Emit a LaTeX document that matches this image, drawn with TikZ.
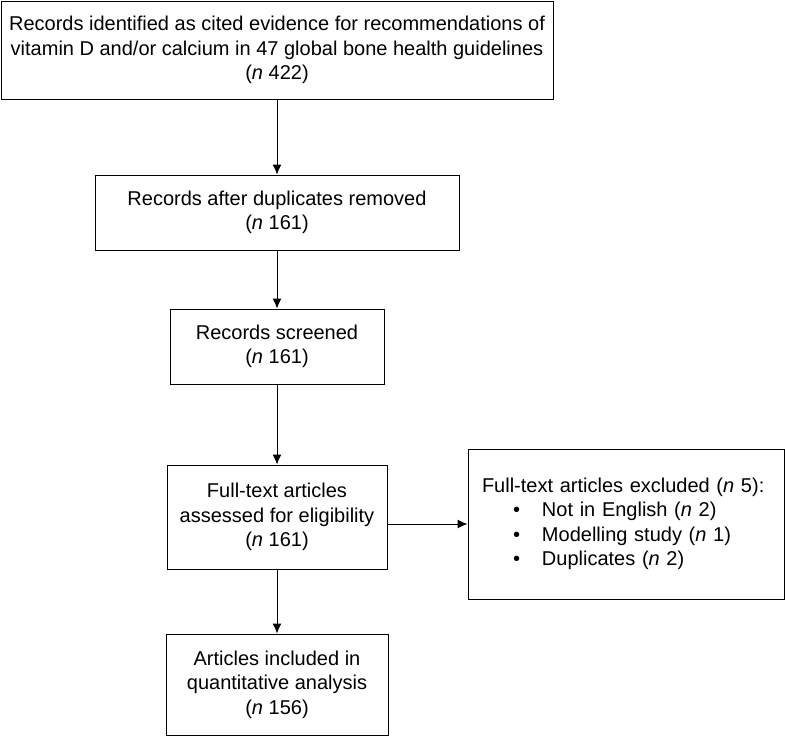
\documentclass[tikz,border=0pt]{standalone}
\usepackage{fontspec}
\setmainfont{Liberation Sans}
\usepackage{tikz}
\usetikzlibrary{arrows.meta}
\usetikzlibrary{positioning}
\usetikzlibrary{math}
\tikzstyle{box} = [rectangle, draw=black, line width=1pt, fill=white, inner sep=0pt, align=center, font=\fontsize{20}{24.5}\selectfont]
\tikzstyle{arrow} = [-{Latex[length=10pt, width=9pt]}, line width=1pt]
\newcommand{\bitem}[1]{\hspace*{31pt}\makebox[29pt][l]{\textbullet}#1}

\begin{document}
\begin{tikzpicture}[x=1pt, y=-1pt]

  \useasboundingbox (0,0) rectangle (785,737);
  \tikzmath{\cx = 277;}

  % main column
  \node[box, minimum width=552, minimum height=98] (rec) at (\cx,50) {Records identified as cited evidence for recommendations of\\vitamin D and/or calcium in 47 global bone health guidelines\\(\textit{n} 422)};
  \node[box, minimum width=364, minimum height=75] (dup) at (\cx,212.5) {Records after duplicates removed\\(\textit{n} 161)};
  \node[box, minimum width=214, minimum height=75] (scr) at (\cx,346.5) {Records screened\\(\textit{n} 161)};
  \node[box, minimum width=220, minimum height=104] (elig) at (\cx,517) {Full-text articles\\assessed for eligibility\\(\textit{n} 161)};
  \node[box, minimum width=222, minimum height=101] (incl) at (\cx,684.5) {Articles included in\\quantitative analysis\\(\textit{n} 156)};

  % exclusions
  \node[box, align=left, text width=288, inner xsep=14pt, minimum height=150] (excl) at (626,524) {Full-text articles excluded (\textit{n} 5):\\\bitem{Not in English (\textit{n} 2)}\\\bitem{Modelling study (\textit{n} 1)}\\\bitem{Duplicates (\textit{n} 2)}};

  \draw[arrow] (rec) -- (dup);
  \draw[arrow] (dup) -- (scr);
  \draw[arrow] (scr) -- (elig);
  \draw[arrow] (elig) -- (incl);
  \draw[arrow] (elig.east |- excl.west) -- (excl.west);

\end{tikzpicture}
\end{document}
